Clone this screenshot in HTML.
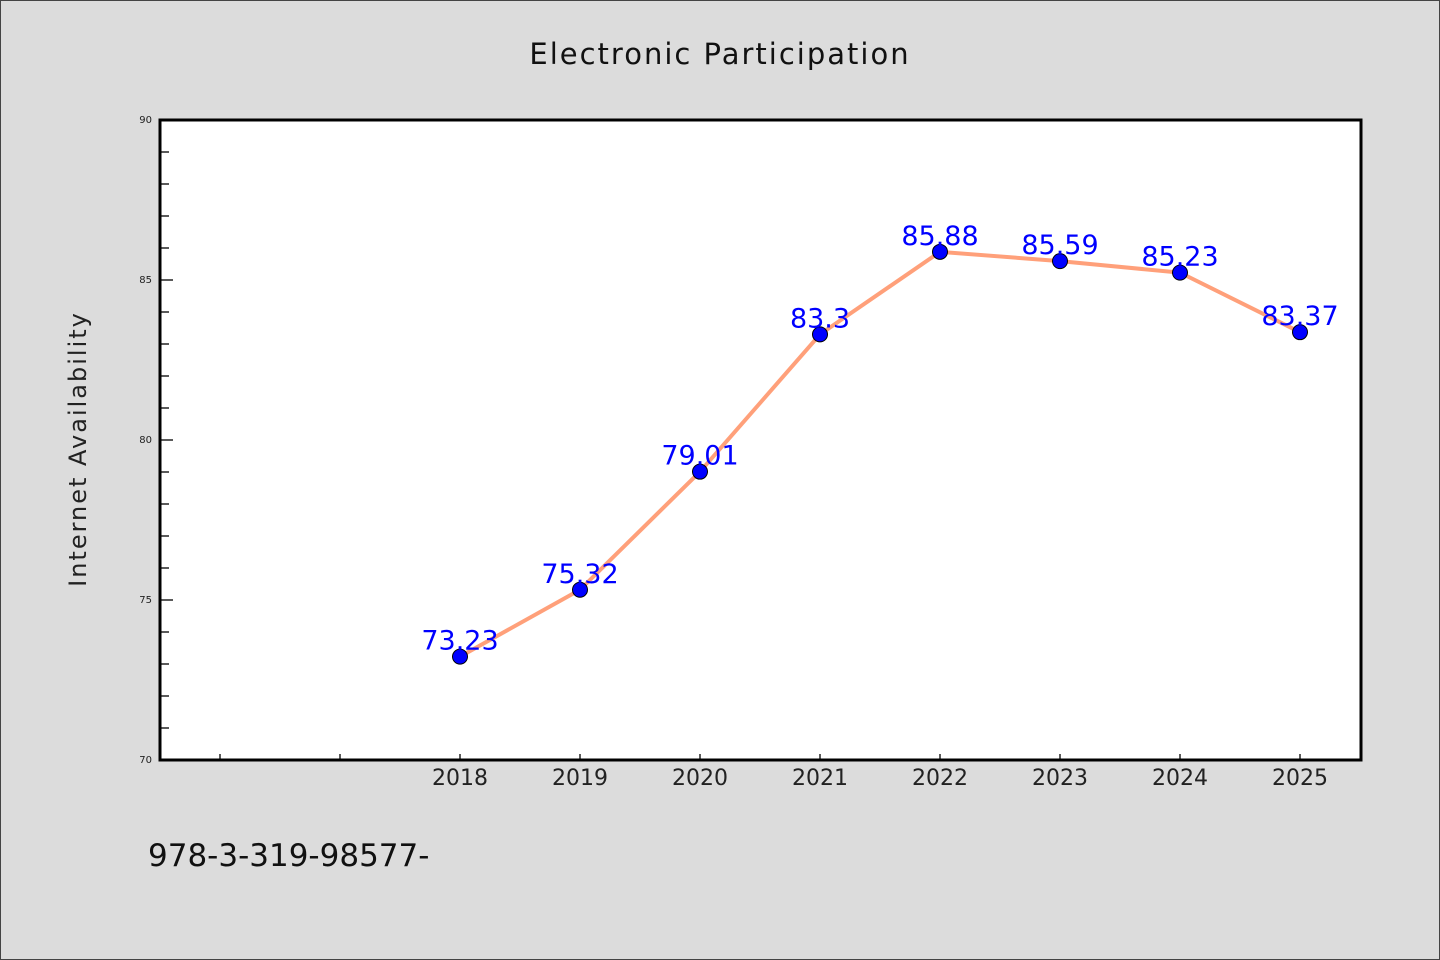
<!DOCTYPE html>
<html><head><meta charset="utf-8"><style>
body{margin:0;background:#dcdcdc;}
svg{display:block;font-family:"DejaVu Sans","Liberation Sans",sans-serif;}
</style></head><body>
<svg id="chart" width="1440" height="960" viewBox="0 0 1440 960">
<rect x="0.5" y="0.5" width="1439" height="959" fill="#dcdcdc" stroke="#444" stroke-width="1"/>
<text x="720" y="64" font-size="29" text-anchor="middle" fill="#111" letter-spacing="2">Electronic Participation</text>
<text transform="translate(86,449) rotate(-90)" font-size="24" text-anchor="middle" fill="#222" letter-spacing="2">Internet Availability</text>
<rect x="160" y="120" width="1201" height="640" fill="#fff"/>
<g id="ticks"></g>
<g id="marks"></g>
<rect x="160" y="120" width="1201" height="640" fill="none" stroke="#000" stroke-width="3"/>
<text x="148" y="866" font-size="31" fill="#111">978-3-319-98577-</text>
</svg>
<script>
const categories = ["2018","2019","2020","2021","2022","2023","2024","2025"];
const values = [73.23,75.32,79.01,83.3,85.88,85.59,85.23,83.37];
const valueLabels = ["73.23","75.32","79.01","83.3","85.88","85.59","85.23","83.37"];
const yTicks = [70,75,80,85,90];
const NS="http://www.w3.org/2000/svg";
function x(i){return 460+120*i;}
function y(v){return 760-(v-70)*32;}
function mk(tag,attrs,parent){const e=document.createElementNS(NS,tag);for(const k in attrs)e.setAttribute(k,attrs[k]);parent.appendChild(e);return e;}
const tg=document.getElementById('ticks'), mg=document.getElementById('marks');
for(let v=70;v<=90;v++){
  const major=yTicks.includes(v);
  const t=mk('line',{x1:160,x2:major?173:169,y1:y(v),y2:y(v),stroke:'#000','stroke-width':1.3},tg);
  
  
}
yTicks.forEach(v=>{
  const t=mk('text',{x:152,y:y(v)+3,'font-size':10,'text-anchor':'end',fill:'#222'},tg);
  t.textContent=v;
  
  
});
for(let i=-2;i<categories.length;i++){
  const t=mk('line',{x1:x(i),x2:x(i),y1:760,y2:754,stroke:'#000','stroke-width':1.3},tg);
  
  
}
categories.forEach((c,i)=>{
  const t=mk('text',{x:x(i),y:785,'font-size':22,'text-anchor':'middle',fill:'#222'},tg);
  t.textContent=c;
  
  
});
const line=mk('polyline',{points:values.map((v,i)=>x(i)+','+y(v)).join(' '),fill:'none',stroke:'#ffa07a','stroke-width':4,'stroke-linejoin':'round'},mg);


values.forEach((v,i)=>{
  const p=mk('circle',{cx:x(i),cy:y(v),r:7.5,fill:'#0000ff',stroke:'#000','stroke-width':1},mg);
  
  
});
values.forEach((v,i)=>{
  const t=mk('text',{x:x(i),y:y(v)-7,'font-size':27,'text-anchor':'middle',fill:'#0000ff'},mg);
  t.textContent=valueLabels[i];
  
  
});
</script>
</body></html>
